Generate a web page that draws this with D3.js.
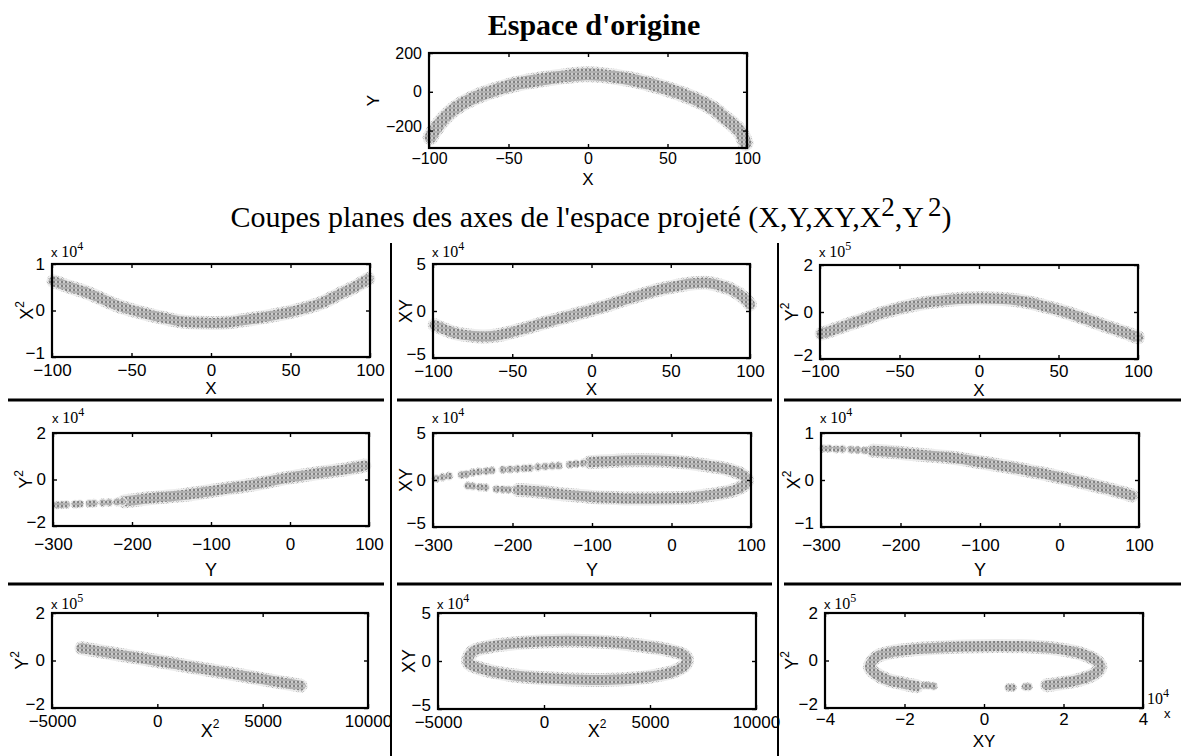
<!DOCTYPE html>
<html><head><meta charset="utf-8">
<script src="https://cdn.jsdelivr.net/npm/d3@7"></script>
<style>body{margin:0;background:#fff}</style>
</head><body><svg id="c" width="1181" height="756"></svg>
<script>
// ---------- tick labels ----------
const ticksX = [-100, -50, 0, 50, 100];
const ticksY = [-300, -200, -100, 0, 100];
const ticksX2 = [-5000, 0, 5000, 10000];
const ticksXYh = [-40000, -20000, 0, 20000, 40000];
const ticksOrigY = [-200, 0, 200];
const ticks1e4a = [-10000, 0, 10000];
const ticks1e4b = [-20000, 0, 20000];
const ticks1e4c = [-50000, 0, 50000];
const ticks1e5b = [-200000, 0, 200000];

// ---------- texts ----------
const titleText = "Espace d'origine";
const subtitleMain = "Coupes planes des axes de l'espace projeté (X,Y,XY,X";
const axisNames = ["X", "Y", "XY", "X²", "Y²"];

// ---------- data: original space (X, Y) ----------
const oriX = [-99, -97, -93, -87, -80, -72, -66, -58, -51, -43, -34, -24, -13, -1, 9, 18, 28, 39, 50, 60, 71, 79, 85, 91, 96, 99];
const oriY = [-235, -205, -160, -108, -66, -32, -12, 10, 28, 44, 57, 70, 82, 90, 86, 76, 62, 40, 14, -14, -52, -88, -128, -168, -210, -265];

// X vs X²
const xx2X = [-99, -90, -80, -70, -60, -50, -40, -30, -20, -10, 0, 10, 20, 30, 40, 50, 60, 70, 80, 90, 99];
const xx2V = [6300, 5200, 4100, 2700, 1200, 100, -800, -1600, -2300, -2600, -2700, -2600, -2100, -1600, -1000, -300, 600, 1700, 3400, 5000, 6800];

// X vs XY
const xxyX = [-99, -92, -85, -77, -68, -60, -54, -45, -33, -22, -12, -1, 10, 20, 31, 41, 52, 62, 72, 80, 88, 94, 98, 100];
const xxyV = [-15000, -20000, -24000, -26000, -27000, -26000, -24000, -20000, -14000, -9000, -4500, 500, 6000, 11500, 17000, 22000, 26000, 29000, 30000, 27500, 23000, 17000, 11000, 7000];

// X vs Y²
const xy2X = [-99, -90, -83, -72, -62, -51, -41, -30, -20, -10, 1, 12, 22, 32, 42, 52, 63, 73, 84, 92, 100];
const xy2V = [-92000, -72000, -55000, -30000, -6000, 14000, 30000, 43000, 51000, 56000, 58000, 56000, 51000, 40000, 23000, 4000, -20000, -44000, -70000, -88000, -108000];

// Y vs Y²
const yy2X = [-210, -200, -178, -157, -135, -114, -93, -72, -51, -30, -9, 12, 33, 54, 75, 94];
const yy2V = [-9400, -9000, -8100, -7400, -6700, -5700, -4600, -3500, -2400, -1100, 400, 1500, 2600, 3600, 4700, 6000];
const yy2SparseX = [-295, -289, -283, -272, -266, -254, -248, -237, -229, -219, -212];
const yy2SparseV = [-11000, -10900, -10800, -10600, -10500, -10300, -10200, -10000, -9900, -9700, -9500];

// Y vs XY
const yxyX = [-103, -80, -60, -40, -19, 0, 23, 44, 65, 80, 88, 93, 95, 93, 88, 80, 65, 44, 23, 0, -19, -40, -60, -80, -100, -120, -145, -170, -193];
const yxyV = [19000, 20000, 20700, 21000, 20700, 20000, 18000, 15500, 12500, 9000, 6000, 3000, 0, -4000, -7500, -10500, -13600, -16500, -18600, -19300, -19600, -19700, -19600, -19000, -18000, -16500, -14500, -12000, -10700];
const yxySparseX = [-296, -288, -280, -264, -258, -250, -242, -233, -226, -212, -203, -194, -185, -178, -168, -159, -150, -142, -128, -120, -111, -256, -250, -241, -234, -220, -212, -205];
const yxySparseV = [1500, 3000, 4200, 5500, 6200, 8000, 8700, 9400, 10000, 11000, 11500, 12000, 12500, 12800, 13800, 14300, 14800, 15200, 16500, 17200, 18000, -6200, -6600, -7600, -8000, -9700, -10000, -10300];

// Y vs X²
const yx2X = [-235, -215, -190, -165, -142, -120, -100, -79, -58, -37, -16, 5, 26, 47, 68, 91];
const yx2V = [6200, 6000, 5600, 5200, 4900, 4400, 3800, 3200, 2600, 1900, 1200, 400, -400, -1300, -2200, -3300];
const yx2SparseX = [-297, -290, -281, -273, -262, -254, -245];
const yx2SparseV = [6700, 6700, 6600, 6600, 6500, 6400, 6300];

// X² vs Y²
const x2y2X = [-3600, -2000, 0, 2000, 4000, 6000, 6800];
const x2y2V = [52000, 28000, -2000, -33000, -63000, -94000, -106000];

// X² vs XY (closed loop)
const x2xyX = [-3582, -3346, -2558, -1297, -194, 1381, 2957, 4532, 5793, 6581, 6738, 6660, 6108, 5005, 3745, 2169, 594, -982, -2243, -3188, -3550];
const x2xyV = [1200, 10000, 15000, 18600, 20400, 21000, 19700, 16200, 11700, 6400, 2300, -4000, -11000, -16200, -19000, -19700, -18600, -16200, -12000, -6400, -2300];

// XY vs Y² (open loop)
const xyy2X = [-16900, -20300, -24500, -27400, -28700, -28200, -26600, -22800, -17800, -11900, -5200, 3200, 11600, 18400, 24200, 28000, 29300, 28000, 24200, 20000, 15800];
const xyy2V = [-108000, -97000, -80000, -54000, -29000, -5000, 19000, 37000, 47000, 54000, 59000, 61000, 59000, 49000, 30000, 2000, -26000, -54000, -80000, -94000, -104000];
const xyy2SparseX = [-15000, -14000, -12700, 6200, 7200, 10400, 11200];
const xyy2SparseV = [-104000, -105000, -108000, -114000, -114000, -111000, -111000];

// ---------- drawing ----------
const svg = d3.select("#c");
svg.append("rect").attr("width", 1181).attr("height", 756).attr("fill", "#fff");
const defs = svg.append("defs");
const pat = defs.append("pattern").attr("id", "stip").attr("width", 4).attr("height", 4)
  .attr("patternUnits", "userSpaceOnUse");
pat.append("rect").attr("width", 4).attr("height", 4).attr("fill", "#cdcdcd");
pat.append("path").attr("d", "M0.5,0.5L3.5,3.5M3.5,0.5L0.5,3.5M2,0V4")
  .attr("stroke", "#5e5e5e").attr("stroke-width", 0.55);
const patL = defs.append("pattern").attr("id", "stipL").attr("width", 5).attr("height", 5)
  .attr("patternUnits", "userSpaceOnUse");
patL.append("rect").attr("width", 5).attr("height", 5).attr("fill", "#ececec");
patL.append("path").attr("d", "M1,1L4,4M4,1L1,4")
  .attr("stroke", "#9a9a9a").attr("stroke-width", 0.5);

const SANS = "Liberation Sans, Arial, Helvetica, sans-serif";
const SERIF = "Liberation Serif, Times New Roman, serif";

function addLabel(t, name, supSize) {
  if (name.endsWith("²")) {
    t.append("tspan").text(name.slice(0, -1));
    t.append("tspan").attr("dy", -7).attr("font-size", supSize).text("2");
  } else t.text(name);
}

function expLabel(x, y, e) {
  const t = svg.append("text").attr("x", x).attr("y", y).attr("fill", "#000");
  t.append("tspan").attr("font-family", SANS).attr("font-size", 13).text("x ");
  t.append("tspan").attr("font-family", SERIF).attr("font-size", 16).text("10");
  t.append("tspan").attr("font-family", SERIF).attr("font-size", 12).attr("dy", -7).text(e);
}

function panel(p) {
  const [L, R, T, B] = p.box;
  const x = d3.scaleLinear().domain(p.xd).range([L, R]);
  const y = d3.scaleLinear().domain(p.yd).range([B, T]);
  const g = svg.append("g");
  const line = d3.line().x(d => x(d[0])).y(d => y(d[1]))
    .curve(p.closed ? d3.curveCatmullRomClosed : d3.curveCatmullRom);
  const bw = p.bw || 11;
  const pts = d3.zip(p.bx, p.bv);
  g.append("path").datum(pts).attr("d", line)
    .attr("fill", "none").attr("stroke", "url(#stipL)")
    .attr("stroke-width", bw + 3).attr("stroke-linecap", "round").attr("stroke-linejoin", "round");
  g.append("path").datum(pts).attr("d", line)
    .attr("fill", "none").attr("stroke", "url(#stip)")
    .attr("stroke-width", bw - 1).attr("stroke-linecap", "round").attr("stroke-linejoin", "round");
  if (p.sx) {
    const sp = d3.zip(p.sx, p.sv);
    g.selectAll(null).data(sp).join("circle")
      .attr("cx", d => x(d[0])).attr("cy", d => y(d[1])).attr("r", 4.5)
      .attr("fill", "url(#stipL)");
    g.selectAll(null).data(sp).join("circle")
      .attr("cx", d => x(d[0])).attr("cy", d => y(d[1])).attr("r", 3.3)
      .attr("fill", "url(#stip)");
  }
  const fx = v => d3.format("d")(v / (p.xs || 1));
  const fy = v => d3.format("d")(v / (p.ys || 1));
  const fs = p.fs || 17;
  const style = sel => {
    sel.select(".domain").remove();
    sel.selectAll(".tick line").attr("stroke", "#000").attr("stroke-width", 1.4);
    sel.selectAll("text").attr("font-family", SANS).attr("font-size", fs).attr("fill", "#000");
  };
  g.append("g").attr("transform", `translate(0,${B})`)
    .call(d3.axisBottom(x).tickValues(p.xt).tickSize(-4).tickPadding(p.xpad).tickFormat(fx)).call(style);
  g.append("g").attr("transform", `translate(0,${T})`)
    .call(d3.axisTop(x).tickValues(p.xt).tickSize(-4).tickFormat("")).call(style);
  const ya = g.append("g").attr("transform", `translate(${L},0)`)
    .call(d3.axisLeft(y).tickValues(p.yt).tickSize(-4).tickPadding(7).tickFormat(fy)).call(style);
  // lowest label sits slightly raised so it clears the x tick labels
  ya.selectAll(".tick text").filter(d => d === p.yt[0]).attr("y", -4);
  g.append("g").attr("transform", `translate(${R},0)`)
    .call(d3.axisRight(y).tickValues(p.yt).tickSize(-4).tickFormat("")).call(style);
  g.append("rect").attr("x", L).attr("y", T).attr("width", R - L).attr("height", B - T)
    .attr("fill", "none").attr("stroke", "#000").attr("stroke-width", 2.2);
  // x label
  const xl = g.append("text").attr("x", p.xlx == null ? (L + R) / 2 : p.xlx).attr("y", p.xly)
    .attr("text-anchor", "middle").attr("dominant-baseline", "central")
    .attr("font-family", SANS).attr("font-size", p.lfs || fs + 1).attr("fill", "#000");
  addLabel(xl, p.xn, 12);
  const yl = g.append("text").attr("transform", `translate(${p.ylx},${(T + B) / 2}) rotate(-90)`)
    .attr("text-anchor", "middle").attr("dominant-baseline", "central")
    .attr("font-family", SANS).attr("font-size", fs + 1).attr("fill", "#000");
  addLabel(yl, p.yn, 12);
  if (p.exp) expLabel(L - 1, p.expY, p.exp);
}

// title
svg.append("text").attr("x", 594).attr("y", 35).attr("text-anchor", "middle")
  .attr("font-family", SERIF).attr("font-weight", "bold").attr("font-size", 30).text(titleText);
// subtitle
const st = svg.append("text").attr("x", 591).attr("y", 227).attr("text-anchor", "middle")
  .attr("font-family", SERIF).attr("font-size", 30).attr("fill", "#000");
st.append("tspan").text(subtitleMain);
st.append("tspan").attr("dy", -11).attr("font-size", 27).text("2");
st.append("tspan").attr("dy", 11).text(",Y");
st.append("tspan").attr("dy", -11).attr("dx", 4).attr("font-size", 27).text("2");
st.append("tspan").attr("dy", 11).text(")");

// original space
panel({box: [429, 747, 53, 148], xd: [-100, 100], yd: [-290, 200], xt: ticksX, yt: ticksOrigY,
  bx: oriX, bv: oriY, bw: 13, xpad: 5, xly: 179, ylx: 373, xn: axisNames[0], yn: axisNames[1], fs: 16});

// row 1
panel({box: [52, 370, 264, 357], xd: [-100, 100], yd: [-10000, 10000], xt: ticksX, yt: ticks1e4a, ys: 1e4,
  bx: xx2X, bv: xx2V, xpad: 7, xly: 388, lfs: 17, ylx: 27, xn: axisNames[0], yn: axisNames[3], exp: "4", expY: 257});
panel({box: [433, 750, 264, 358], xd: [-100, 100], yd: [-50000, 50000], xt: ticksX, yt: ticks1e4c, ys: 1e4,
  bx: xxyX, bv: xxyV, xpad: 7, xly: 389, lfs: 17, ylx: 406, xn: axisNames[0], yn: axisNames[2], exp: "4", expY: 257});
panel({box: [820, 1138, 265, 359], xd: [-100, 100], yd: [-200000, 200000], xt: ticksX, yt: ticks1e5b, ys: 1e5,
  bx: xy2X, bv: xy2V, xpad: 6, xly: 390, lfs: 17, ylx: 792, xn: axisNames[0], yn: axisNames[4], exp: "5", expY: 257});

// row 2
panel({box: [53, 369, 433, 526], xd: [-300, 100], yd: [-20000, 20000], xt: ticksY, yt: ticks1e4b, ys: 1e4,
  bx: yy2X, bv: yy2V, sx: yy2SparseX, sv: yy2SparseV, xpad: 12, xly: 570, ylx: 26, xn: axisNames[1], yn: axisNames[4], exp: "4", expY: 423});
panel({box: [433, 751, 433, 527], xd: [-300, 100], yd: [-50000, 50000], xt: ticksY, yt: ticks1e4c, ys: 1e4,
  bx: yxyX, bv: yxyV, sx: yxySparseX, sv: yxySparseV, xpad: 12, xly: 570, ylx: 406, xn: axisNames[1], yn: axisNames[2], exp: "4", expY: 423});
panel({box: [821, 1139, 433, 527], xd: [-300, 100], yd: [-10000, 10000], xt: ticksY, yt: ticks1e4a, ys: 1e4,
  bx: yx2X, bv: yx2V, sx: yx2SparseX, sv: yx2SparseV, xpad: 12, xly: 570, ylx: 794, xn: axisNames[1], yn: axisNames[3], exp: "4", expY: 423});

// row 3
panel({box: [52, 368, 613, 708], xd: [-5000, 10000], yd: [-200000, 200000], xt: ticksX2, yt: ticks1e5b, ys: 1e5,
  bx: x2y2X, bv: x2y2V, xpad: 7, xly: 731, ylx: 22, xn: axisNames[3], yn: axisNames[4], exp: "5", expY: 609});
panel({box: [438, 756, 613, 709], xd: [-5000, 10000], yd: [-50000, 50000], xt: ticksX2, yt: ticks1e4c, ys: 1e4,
  bx: x2xyX, bv: x2xyV, closed: true, xpad: 7, xly: 731, ylx: 409, xn: axisNames[3], yn: axisNames[2], exp: "4", expY: 609});
panel({box: [825, 1143, 613, 708], xd: [-40000, 40000], yd: [-200000, 200000], xt: ticksXYh, xs: 1e4, yt: ticks1e5b, ys: 1e5,
  bx: xyy2X, bv: xyy2V, sx: xyy2SparseX, sv: xyy2SparseV, xpad: 5, xly: 741, lfs: 17, ylx: 792, xn: axisNames[2], yn: axisNames[4], exp: "5", expY: 609});
// extra axis exponent at bottom right
const e2 = svg.append("text").attr("x", 1147).attr("y", 704).attr("fill", "#000");
e2.append("tspan").attr("font-family", SERIF).attr("font-size", 16).text("10");
e2.append("tspan").attr("font-family", SERIF).attr("font-size", 12).attr("dy", -7).text("4");
svg.append("text").attr("x", 1164).attr("y", 718).attr("font-family", SANS).attr("font-size", 13).text("x");

// separators
const sep = svg.append("g").attr("stroke", "#000");
[400, 584].forEach(yy => {
  [[8, 384], [397, 772], [784, 1181]].forEach(([a, b]) =>
    sep.append("line").attr("x1", a).attr("x2", b).attr("y1", yy).attr("y2", yy).attr("stroke-width", 3));
});
[391, 778].forEach(xx => sep.append("line").attr("x1", xx).attr("x2", xx).attr("y1", 243).attr("y2", 756).attr("stroke-width", 2));
</script>
</body></html>
